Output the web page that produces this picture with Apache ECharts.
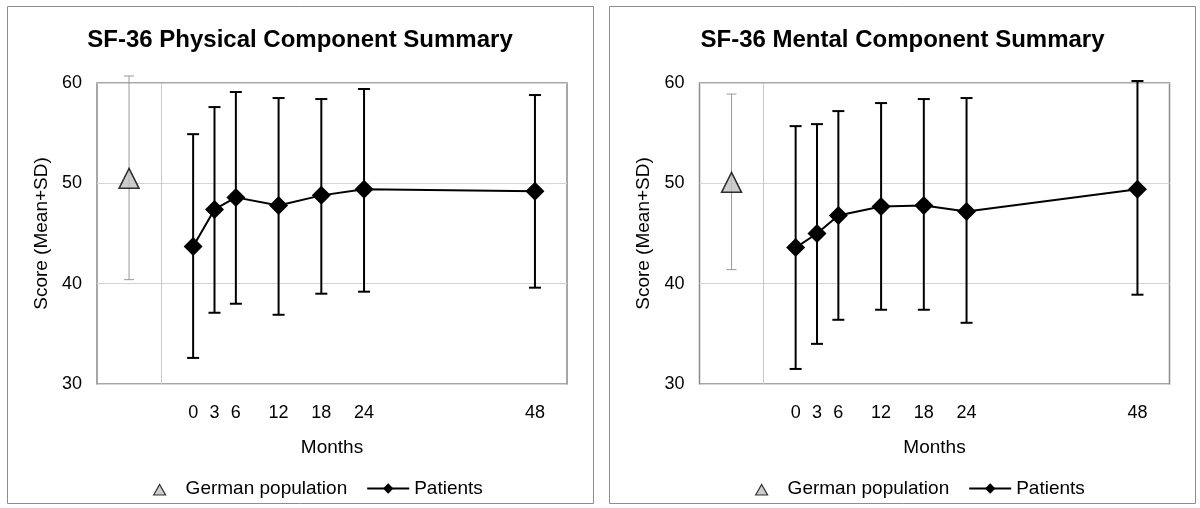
<!DOCTYPE html>
<html>
<head>
<meta charset="utf-8">
<script src="https://cdn.jsdelivr.net/npm/echarts@6/dist/echarts.min.js"></script>
<style>
  html, body { margin: 0; padding: 0; background: #fff; }
  #c1 { position: absolute; left: 0; top: 0; width: 600px; height: 508px; }
  #c2 { position: absolute; left: 605px; top: 0; width: 595px; height: 508px; }
</style>
</head>
<body>
<div id="c1"></div>
<div id="c2"></div>
<script>
// ---- data ----
const months = [0, 3, 6, 12, 18, 24, 48];
const monthTickLabels = ['0', '3', '6', '12', '18', '24', '48'];
const yTicks = [30, 40, 50, 60];
const germanPos = -9;          // x-position of the reference group
const separatorPos = -4.5;     // vertical divider between reference and patients

const pcsTitle = 'SF-36 Physical Component Summary';
const pcsGermanMean = 50.5;
const pcsGermanUpper = 60.7;
const pcsGermanLower = 40.4;
const pcsPatientsMean  = [43.7, 47.4, 48.6, 47.8, 48.8, 49.4, 49.2];
const pcsPatientsUpper = [54.9, 57.6, 59.1, 58.5, 58.4, 59.4, 58.8];
const pcsPatientsLower = [32.6, 37.1, 38.0, 36.9, 39.0, 39.2, 39.6];

const mcsTitle = 'SF-36 Mental Component Summary';
const mcsGermanMean = 50.1;
const mcsGermanUpper = 58.9;
const mcsGermanLower = 41.4;
const mcsPatientsMean  = [43.6, 45.0, 46.8, 47.7, 47.8, 47.2, 49.4];
const mcsPatientsUpper = [55.7, 55.9, 57.2, 58.0, 58.4, 58.5, 60.2];
const mcsPatientsLower = [31.5, 34.0, 36.4, 37.4, 37.4, 36.1, 38.9];

const FONT = '"Liberation Sans", Arial, Helvetica, sans-serif';
// small centred triangle inside a 42x13 legend icon box
const LEGEND_TRIANGLE = 'path://M0,0M42,13M15,13L21,2.5L27,13Z';

function errorBarRenderer(color, lineWidth, capHalf) {
  return function (params, api) {
    const x = api.value(0), lo = api.value(1), hi = api.value(2);
    const top = api.coord([x, hi]);
    const bot = api.coord([x, lo]);
    const style = { stroke: color, lineWidth: lineWidth };
    return {
      type: 'group',
      children: [
        { type: 'line', shape: { x1: top[0], y1: top[1], x2: bot[0], y2: bot[1] }, style: style },
        { type: 'line', shape: { x1: top[0] - capHalf, y1: top[1], x2: top[0] + capHalf, y2: top[1] }, style: style },
        { type: 'line', shape: { x1: bot[0] - capHalf, y1: bot[1], x2: bot[0] + capHalf, y2: bot[1] }, style: style }
      ]
    };
  };
}

function buildOption(cfg) {
  const patientsLine = months.map((m, i) => [m, cfg.mean[i]]);
  const patientsErr = months.map((m, i) => [m, cfg.lower[i], cfg.upper[i]]);
  return {
    animation: false,
    textStyle: { fontFamily: FONT },
    graphic: [{
      type: 'rect',
      shape: { x: cfg.box[0], y: cfg.box[1], width: cfg.box[2], height: cfg.box[3] },
      style: { fill: 'none', stroke: '#8c8c8c', lineWidth: 1 },
      silent: true
    }],
    title: {
      text: cfg.title,
      left: 'center',
      top: 23,
      textStyle: { fontFamily: FONT, fontSize: 24, fontWeight: 'bold', color: '#000' }
    },
    legend: {
      left: cfg.legendLeft,
      top: 474,
      itemWidth: 42,
      itemHeight: 13,
      itemGap: 19,
      textStyle: { fontFamily: FONT, fontSize: 19, color: '#000' },
      data: [
        { name: 'German population', icon: LEGEND_TRIANGLE,
          itemStyle: { color: '#c0c0c0', borderColor: '#000', borderWidth: 1.2 } },
        { name: 'Patients' }
      ]
    },
    grid: {
      left: cfg.gridLeft, top: 83, width: 470, height: 301,
      show: true, borderColor: '#8a8a8a', borderWidth: 1.5, backgroundColor: 'transparent'
    },
    xAxis: {
      type: 'value',
      min: -13.5, max: 52.5, interval: 1.5,
      name: 'Months', nameLocation: 'middle', nameGap: 54,
      nameTextStyle: { fontFamily: FONT, fontSize: 19, color: '#000' },
      axisLine: { show: false }, axisTick: { show: false }, splitLine: { show: false },
      axisLabel: {
        customValues: months,
        margin: 20, fontFamily: FONT, fontSize: 18, color: '#000',
        formatter: function (v) {
          const idx = months.indexOf(v);
          return idx >= 0 ? monthTickLabels[idx] : '';
        }
      }
    },
    yAxis: {
      type: 'value', min: yTicks[0], max: yTicks[yTicks.length - 1], interval: 10,
      name: 'Score (Mean+SD)', nameLocation: 'middle', nameGap: 46,
      nameTextStyle: { fontFamily: FONT, fontSize: 19, color: '#000' },
      axisLine: { show: false }, axisTick: { show: false },
      splitLine: { lineStyle: { color: '#d4d4d4', width: 1 } },
      axisLabel: { margin: 15, fontFamily: FONT, fontSize: 18, color: '#000' }
    },
    series: [
      {
        type: 'custom', name: 'German SD', silent: true, clip: false, z: 2,
        renderItem: errorBarRenderer('#9a9a9a', 1, 5),
        encode: { x: 0, y: [1, 2] },
        data: [[germanPos, cfg.gLower, cfg.gUpper]]
      },
      {
        type: 'custom', name: 'Patients SD', silent: true, clip: false, z: 3,
        renderItem: errorBarRenderer('#000', 2, 6),
        encode: { x: 0, y: [1, 2] },
        data: patientsErr
      },
      {
        type: 'scatter', name: 'German population', z: 5,
        symbol: 'triangle', symbolSize: 20,
        itemStyle: { color: '#c0c0c0', borderColor: '#000', borderWidth: 1.5 },
        data: [[germanPos, cfg.gMean]],
        markLine: {
          silent: true, symbol: ['none', 'none'], label: { show: false },
          lineStyle: { color: '#c8c8c8', width: 1, type: 'solid' },
          data: [{ xAxis: separatorPos }]
        }
      },
      {
        type: 'line', name: 'Patients', z: 6,
        symbol: 'diamond', symbolSize: 19,
        itemStyle: { color: '#000' },
        lineStyle: { color: '#000', width: 2 },
        data: patientsLine
      }
    ]
  };
}

const chart1 = echarts.init(document.getElementById('c1'));
chart1.setOption(buildOption({
  title: pcsTitle, box: [7.5, 6.5, 586, 497], gridLeft: 97, legendLeft: 133,
  gMean: pcsGermanMean, gUpper: pcsGermanUpper, gLower: pcsGermanLower,
  mean: pcsPatientsMean, upper: pcsPatientsUpper, lower: pcsPatientsLower
}));

const chart2 = echarts.init(document.getElementById('c2'));
chart2.setOption(buildOption({
  title: mcsTitle, box: [4.5, 6.5, 586, 497], gridLeft: 94.5, legendLeft: 130,
  gMean: mcsGermanMean, gUpper: mcsGermanUpper, gLower: mcsGermanLower,
  mean: mcsPatientsMean, upper: mcsPatientsUpper, lower: mcsPatientsLower
}));
</script>
</body>
</html>
